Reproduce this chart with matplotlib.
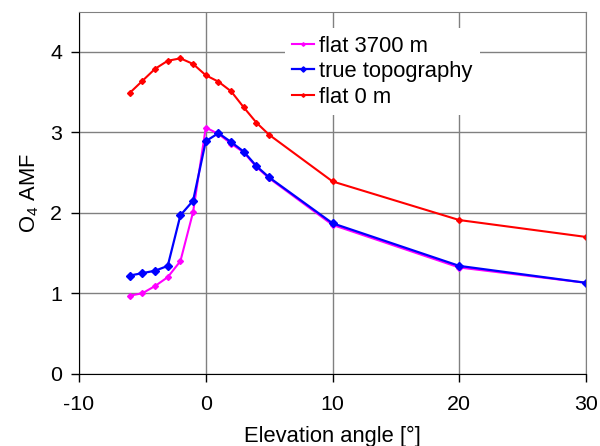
import matplotlib
matplotlib.use("Agg")
import matplotlib.pyplot as plt

plt.rcParams['font.family'] = ['Liberation Sans', 'DejaVu Sans']
plt.rcParams['mathtext.fontset'] = 'custom'
plt.rcParams['mathtext.rm'] = 'Liberation Sans'
plt.rcParams['mathtext.it'] = 'Liberation Sans:italic'
plt.rcParams['axes.unicode_minus'] = False

# elevation angles [deg]
elev = [-6, -5, -4, -3, -2, -1, 0, 1, 2, 3, 4, 5, 10, 20, 30]

# O4 AMF per scenario
amf_flat3700 = [0.97, 1.00, 1.09, 1.20, 1.40, 2.01, 3.06, 2.98, 2.86, 2.75, 2.57, 2.43, 1.85, 1.32, 1.13]
amf_topo = [1.22, 1.25, 1.28, 1.34, 1.97, 2.15, 2.89, 2.99, 2.88, 2.76, 2.58, 2.44, 1.87, 1.34, 1.13]
amf_flat0 = [3.49, 3.64, 3.79, 3.89, 3.92, 3.85, 3.71, 3.63, 3.51, 3.31, 3.12, 2.97, 2.39, 1.91, 1.70]

labels = ['flat 3700 m', 'true topography', 'flat 0 m']
fs_tick = 15.4
fs_lab = 15.8

fig = plt.figure(figsize=(6.0, 4.46), dpi=100)
ax = fig.add_axes([0.1317, 0.1621, 0.845, 0.8117])

ax.plot(elev, amf_flat3700, color='#FF00FF', lw=1.5, marker='D', ms=3, label=labels[0])
ax.plot(elev, amf_topo, color='#0000FF', lw=1.6, marker='D', ms=4.5, label=labels[1])
ax.plot(elev, amf_flat0, color='#FF0000', lw=1.5, marker='D', ms=3, label=labels[2])

ax.set_xlim(-10, 30)
ax.set_ylim(0, 4.5)
ax.set_xticks([-10, 0, 10, 20, 30])
ax.set_yticks([0, 1, 2, 3, 4])
ax.grid(True, color='#808080', lw=1)
ax.set_axisbelow(True)

for s in ['top', 'right']:
    ax.spines[s].set_color('#808080')
for s in ['left', 'bottom']:
    ax.spines[s].set_color('black')
ax.tick_params(direction='out', length=6, width=1, labelsize=fs_tick)
ax.tick_params(axis='x', pad=9)
ax.tick_params(axis='y', pad=6)

ax.set_xlabel('Elevation angle [°]', fontsize=fs_lab, labelpad=9)
ax.set_ylabel('O$_4$ AMF', fontsize=fs_lab, labelpad=7)

leg = ax.legend(loc='upper left', bbox_to_anchor=(0.384, 0.985), fontsize=fs_lab,
                frameon=True, fancybox=False, framealpha=1, edgecolor='none',
                handlelength=1.0, handletextpad=0.2, labelspacing=0.2,
                borderpad=0.35, markerscale=0.6)

fig.savefig('out.png', dpi=100)
